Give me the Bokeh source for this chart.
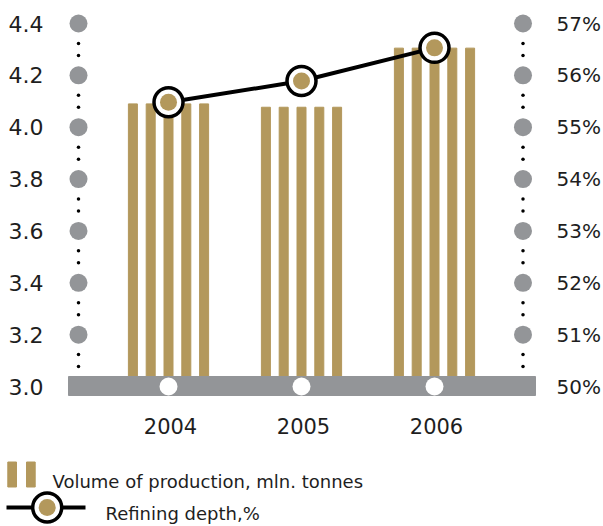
from bokeh.plotting import figure
from bokeh.models import Range1d
from bokeh.core.properties import value
from bokeh.embed import file_html
from bokeh.resources import INLINE

# ---------------- data ----------------
years = [2004, 2005, 2006]
volume = [4.09, 4.077, 4.305]          # mln. tonnes (left scale)
depth = [55.48, 55.89, 56.53]          # refining depth, % (right scale)
left_ticks = [3.0, 3.2, 3.4, 3.6, 3.8, 4.0, 4.2, 4.4]
left_tick_labels = ["3.0", "3.2", "3.4", "3.6", "3.8", "4.0", "4.2", "4.4"]
right_ticks = [50, 51, 52, 53, 54, 55, 56, 57]
right_tick_labels = ["50%", "51%", "52%", "53%", "54%", "55%", "56%", "57%"]
year_labels = ["2004", "2005", "2006"]
legend_labels = ["Volume of production, mln. tonnes", "Refining depth,%"]

# ---------------- styles / layout ----------------
GOLD = "#b3985c"
GREY = "#939598"
TEXT = "#1e1e1e"
FONT = value("DejaVu Sans")

W, H = 603, 526
X0_PX, PX_PER_YEAR = 168.0, 133.0       # canvas x of first year, px per year
Y0_PX, PXU = 386.0, 363.0 / 1.4         # canvas y of 3.0, px per unit


def xd(px):
    return years[0] + (px - X0_PX) / PX_PER_YEAR


def yd(py):
    return left_ticks[0] + (Y0_PX - py) / PXU


def to_left(pct):
    return left_ticks[0] + (pct - right_ticks[0]) * (left_ticks[1] - left_ticks[0]) / (right_ticks[1] - right_ticks[0])


p = figure(width=W, height=H, output_backend="svg", toolbar_location=None,
           x_range=Range1d(xd(0), xd(W)), y_range=Range1d(yd(H), yd(0)),
           x_axis_type=None, y_axis_type=None, min_border=0)
p.grid.visible = False
p.outline_line_color = None
p.background_fill_color = "white"
p.border_fill_color = "white"

base = left_ticks[0]
depth_l = [to_left(d) for d in depth]
rt_left = [to_left(t) for t in right_ticks]

# striped bars (5 stripes per year)
pitch = 17.8 / PX_PER_YEAR
offsets = [-2, -1, 0, 1, 2]
sx = [yr + k * pitch for yr in years for k in offsets]
st = [v for v in volume for k in offsets]
p.vbar(x=sx, top=st, bottom=base, width=9 / PX_PER_YEAR, color=GOLD)

# grey base bar with white year dots
p.quad(left=[xd(68)], right=[xd(535)], top=[yd(376)], bottom=[yd(395)], color=GREY)
p.scatter(x=years, y=[base] * len(years), size=18, fill_color="white", line_color=None)

# dotted scale decorations
lx, rx = xd(78), xd(522.5)
p.scatter(x=[lx] * (len(left_ticks) - 1), y=left_ticks[1:], size=18,
          fill_color=GREY, line_color=None)
p.scatter(x=[rx] * (len(rt_left) - 1), y=rt_left[1:], size=18,
          fill_color=GREY, line_color=None)
mids = [(a + b) / 2 for a, b in zip(left_ticks[:-1], left_ticks[1:])]
dy = 6 / PXU
small_y = [m + s * dy for m in mids for s in (-1, 1)]
p.scatter(x=[lx] * len(small_y) + [rx] * len(small_y), y=small_y + small_y,
          size=3.5, fill_color="black", line_color=None)

# refining depth line
p.line(x=years, y=depth_l, line_color="black", line_width=4)
p.scatter(x=years, y=depth_l, size=29, fill_color="white",
          line_color="black", line_width=3.5)
p.scatter(x=years, y=depth_l, size=17, fill_color=GOLD, line_color=None)

# scale labels
p.text(x=[xd(43)] * len(left_ticks), y=left_ticks, text=left_tick_labels,
       text_font=FONT, text_font_size="22px", text_color=TEXT,
       text_align="right", text_baseline="middle")
p.text(x=[xd(556)] * len(rt_left), y=rt_left, text=right_tick_labels,
       text_font=FONT, text_font_size="20px", text_color=TEXT,
       text_align="left", text_baseline="middle")
p.text(x=[yr + 2 / PX_PER_YEAR for yr in years], y=[yd(425)] * len(years),
       text=year_labels, text_font=FONT, text_font_size="21px", text_color=TEXT,
       text_align="center", text_baseline="middle")

# legend
p.quad(left=[xd(7.3), xd(26)], right=[xd(16), xd(34.7)],
       top=[yd(461.5)] * 2, bottom=[yd(486.5)] * 2, color=GOLD)
p.text(x=[xd(52)], y=[yd(481)], text=[legend_labels[0]], text_font=FONT,
       text_font_size="18px", text_color=TEXT, text_baseline="alphabetic")

leg_y = yd(507)
p.line(x=[xd(6), xd(85)], y=[leg_y, leg_y], line_color="black", line_width=4)
p.scatter(x=[xd(46.7)], y=[leg_y], size=29, fill_color="white",
          line_color="black", line_width=3.5)
p.scatter(x=[xd(46.7)], y=[leg_y], size=17, fill_color=GOLD, line_color=None)
p.text(x=[xd(105)], y=[yd(512.5)], text=[legend_labels[1]], text_font=FONT,
       text_font_size="18px", text_color=TEXT, text_baseline="alphabetic")

open("out.html", "w").write(file_html(p, INLINE))
